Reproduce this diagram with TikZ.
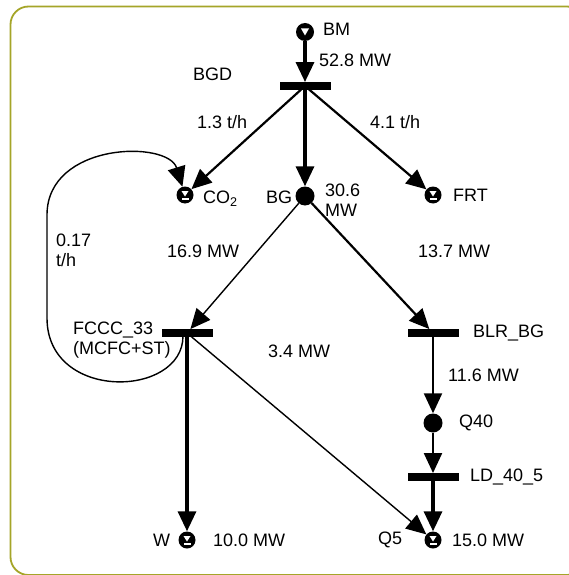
\documentclass[tikz,border=0pt]{standalone}
\usepackage{fontspec}
\setmainfont{Liberation Sans}
\usetikzlibrary{arrows.meta}
\definecolor{frameolive}{RGB}{165,165,40}
\tikzset{flowtip/.tip={Triangle[length=20pt 0,width=18pt 0]}}
\begin{document}
\begin{tikzpicture}[x=1pt,y=-1pt,
  every node/.style={font=\fontsize{18}{20}\selectfont},
  lbl/.style={anchor=west, inner sep=0pt, align=left},
  bar/.style={rectangle, fill=black, minimum width=51pt, minimum height=7.5pt, inner sep=0pt},
  dot/.style={circle, fill=black, minimum size=19pt, inner sep=0pt},
  src/.style={circle, fill=black, minimum size=18pt, inner sep=0pt,
    path picture={\fill[white,shift={(path picture bounding box.center)}] (-4pt,3.5pt) -- (4pt,3.5pt) -- (0pt,-3.5pt) -- cycle;}},
  sink/.style={circle, fill=black, minimum size=17pt, inner sep=0pt,
    path picture={\fill[white,shift={(path picture bounding box.center)}] (-3.5pt,4pt) -- (3.5pt,4pt) -- (0pt,-1.5pt) -- cycle;
                  \fill[white,shift={(path picture bounding box.center)}] (-3.5pt,-3pt) rectangle (3.5pt,-4.6pt);}},
  flow/.style={-flowtip},
  wthick/.style={line width=3.3pt},
  wmed/.style={line width=2.2pt},
  wthin/.style={line width=1.4pt}
]
\useasboundingbox (0,0) rectangle (569,575);
\fill[white] (0,0) rectangle (569,575);
\draw[frameolive, line width=1.8pt, rounded corners=18pt] (10.5,6.5) rectangle (585,575);

% nodes
\node[src] (bm) at (305,32) {};
\node[bar] (bgd) at (305,86) {};
\node[sink] (co2) at (185,195) {};
\node[dot] (bg) at (305,196) {};
\node[sink] (frt) at (433,195) {};
\node[bar] (fccc) at (187,333) {};
\node[bar] (blr) at (433,333) {};
\node[dot] (q40) at (433,423) {};
\node[bar] (ld) at (433,477) {};
\node[sink] (w) at (187,540) {};
\node[sink] (q5) at (433,540) {};
\coordinate (loopstart) at (183,336);

% labels
\node[lbl] (tbm) at (323,29) {BM};
\node[lbl] (t528) at (319,60) {52.8 MW};
\node[lbl] (tbgd) at (193,74) {BGD};
\node[lbl] (t13) at (197,122) {1.3 t/h};
\node[lbl] (t41) at (370,122) {4.1 t/h};
\node[lbl] (tco2) at (203,199) {CO\textsubscript{2}};
\node[lbl] (tbg) at (266,197) {BG};
\node[lbl] (t306) at (325,200) {30.6\\MW};
\node[lbl] (tfrt) at (453,195) {FRT};
\node[lbl] (t017) at (56,250) {0.17\\t/h};
\node[lbl] (t169) at (167,251) {16.9 MW};
\node[lbl] (t137) at (418,251) {13.7 MW};
\node[lbl] (tfccc) at (73,340) {FCCC\_33\\(MCFC+ST)};
\node[lbl] (t34) at (268,351) {3.4 MW};
\node[lbl] (tblr) at (473,333) {BLR\_BG};
\node[lbl] (t116) at (448,375) {11.6 MW};
\node[lbl] (tq40) at (459,423) {Q40};
\node[lbl] (tld) at (470,477) {LD\_40\_5};
\node[lbl] (tw) at (153,540) {W};
\node[lbl] (t100) at (213,540) {10.0 MW};
\node[lbl] (tq5) at (378,540) {Q5};
\node[lbl] (t150) at (452,540) {15.0 MW};

% connectors
\draw[wthick, flow] (bm) -- (bgd);
\draw[wmed, flow] (bgd.center) -- (co2);
\draw[wthick, flow] (bgd.center) -- (bg);
\draw[wmed, flow] (bgd.center) -- (frt);
\draw[wthin, flow] (bg) -- (fccc);
\draw[wmed, flow] (bg) -- (blr);
\draw[wthick, flow] (fccc.center) -- (w);
\draw[wthin, flow] (fccc.center) -- (q5);
\draw[wmed, flow] (blr.center) -- (q40);
\draw[wmed, flow] (q40) -- (ld);
\draw[wthick, flow] (ld.center) -- (q5);
\draw[wthin, flow] (loopstart) .. controls (183,398) and (47,402) .. (47,318) -- (47,215) .. controls (47,142) and (168,140) .. (co2);
\end{tikzpicture}
\end{document}
